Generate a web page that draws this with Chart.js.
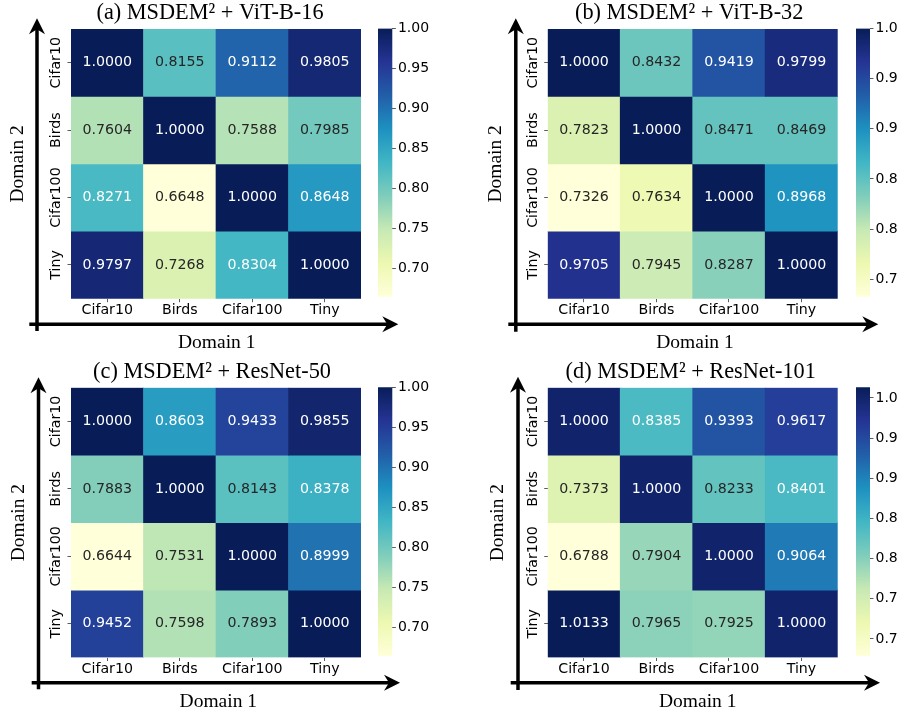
<!DOCTYPE html>
<html>
<head>
<meta charset="utf-8">
<script src="https://cdn.jsdelivr.net/npm/chart.js@4/dist/chart.umd.min.js"></script>
<style>
  html, body { margin: 0; padding: 0; background: #fff; overflow: hidden; }
  #wrap { position: relative; width: 901px; height: 711px; overflow: hidden; background: #fff; }
  canvas { position: absolute; }
</style>
</head>
<body>
<div id="wrap"></div>
<script>
// domains on both axes
const colLabels = ["Cifar10", "Birds", "Cifar100", "Tiny"];
const rowLabels = ["Cifar10", "Birds", "Cifar100", "Tiny"];

// rows = Domain 2 (top to bottom), cols = Domain 1
const vitB16 = [
  [1.0000, 0.8155, 0.9112, 0.9805],
  [0.7604, 1.0000, 0.7588, 0.7985],
  [0.8271, 0.6648, 1.0000, 0.8648],
  [0.9797, 0.7268, 0.8304, 1.0000],
];
const vitB32 = [
  [1.0000, 0.8432, 0.9419, 0.9799],
  [0.7823, 1.0000, 0.8471, 0.8469],
  [0.7326, 0.7634, 1.0000, 0.8968],
  [0.9705, 0.7945, 0.8287, 1.0000],
];
const resnet50 = [
  [1.0000, 0.8603, 0.9433, 0.9855],
  [0.7883, 1.0000, 0.8143, 0.8378],
  [0.6644, 0.7531, 1.0000, 0.8999],
  [0.9452, 0.7598, 0.7893, 1.0000],
];
const resnet101 = [
  [1.0000, 0.8385, 0.9393, 0.9617],
  [0.7373, 1.0000, 0.8233, 0.8401],
  [0.6788, 0.7904, 1.0000, 0.9064],
  [1.0133, 0.7965, 0.7925, 1.0000],
];

const titles = [
  "(a) MSDEM² + ViT-B-16",
  "(b) MSDEM² + ViT-B-32",
  "(c) MSDEM² + ResNet-50",
  "(d) MSDEM² + ResNet-101",
];

// colorbar tick values
const cbTicksA = [0.70, 0.75, 0.80, 0.85, 0.90, 0.95, 1.00];
const cbTicksB = [0.75, 0.80, 0.85, 0.90, 0.95, 1.00];
const cbTicksC = [0.70, 0.75, 0.80, 0.85, 0.90, 0.95, 1.00];
const cbTicksD = [0.70, 0.75, 0.80, 0.85, 0.90, 0.95, 1.00];

const xAxisName = "Domain 1";
const yAxisName = "Domain 2";

// YlGnBu stops
const ylgnbu = ["#ffffd9", "#edf8b1", "#c7e9b4", "#7fcdbb", "#41b6c4", "#1d91c0", "#225ea8", "#253494", "#081d58"];

// page layout of each panel (pixels)
const panels = [
  { values: vitB16, title: titles[0], cbTicks: cbTicksA, x: 0, y: 0, h: 350,
    L: 71, R: 361, T: 29, B: 298.7, yw: 12, cbL: 378.3, cbR: 392.7, cbT: 28.5, cbB: 296.7,
    vx: -34, tip: -10.7, vb: 32.3, hy: 25.5, hx0: -41.7, hx1: 37.3, d1dx: 0.7, d2dx: -53.5 },
  { values: vitB32, title: titles[1], cbTicks: cbTicksB, x: 450, y: 0, h: 350,
    L: 547.7, R: 837.7, T: 29, B: 298.7, yw: 7, cbL: 856, cbR: 870, cbT: 28.5, cbB: 296.7,
    vx: -31.9, tip: -10.7, vb: 33, hy: 25.5, hx0: -39.4, hx1: 40.6, d1dx: 2.3, d2dx: -51.9 },
  { values: resnet50, title: titles[2], cbTicks: cbTicksC, x: 0, y: 350, h: 361,
    L: 71, R: 361, T: 387.7, B: 657.5, yw: 8, cbL: 378.3, cbR: 392.7, cbT: 387.3, cbB: 656,
    vx: -32.5, tip: -10.4, vb: 31.8, hy: 25.3, hx0: -39.3, hx1: 39, d1dx: 2.3, d2dx: -52 },
  { values: resnet101, title: titles[3], cbTicks: cbTicksD, x: 450, y: 350, h: 361,
    L: 547.7, R: 837.7, T: 387.7, B: 657.5, yw: 4, cbL: 856, cbR: 870, cbT: 387.3, cbB: 656,
    vx: -29.7, tip: -11, vb: 32.5, hy: 25.3, hx0: -37, hx1: 42.3, d1dx: 5, d2dx: -49.7 },
];

const sansFont = "'DejaVu Sans', 'Liberation Sans', sans-serif";
const serifFont = "'Liberation Serif', 'Times New Roman', serif";
const titleSize = 22.3;
const titlePadBottom = 4.6;
const titleBox = titleSize * 1.0 + titlePadBottom;
const xAxisHeight = 25;
const figureRightEdge = 897; // the original figure is cropped here

function hexToRgb(hex) {
  return [1, 3, 5].map((i) => parseInt(hex.substr(i, 2), 16));
}

function colormap(t) {
  t = Math.min(1, Math.max(0, t));
  const pos = t * (ylgnbu.length - 1);
  const i = Math.min(Math.floor(pos), ylgnbu.length - 2);
  const f = pos - i;
  const a = hexToRgb(ylgnbu[i]);
  const b = hexToRgb(ylgnbu[i + 1]);
  return a.map((v, k) => Math.round(v + (b[k] - v) * f));
}

function luminance(rgb) {
  const lin = rgb.map((c) => {
    c = c / 255;
    return c <= 0.03928 ? c / 12.92 : Math.pow((c + 0.055) / 1.055, 2.4);
  });
  return 0.2126 * lin[0] + 0.7152 * lin[1] + 0.0722 * lin[2];
}

function drawArrowHead(ctx, x, y, dir) {
  // dir: "up" or "right"
  const len = 16, half = 8, notch = 11;
  ctx.beginPath();
  if (dir === "up") {
    ctx.moveTo(x, y);
    ctx.lineTo(x - half, y + len);
    ctx.lineTo(x, y + notch);
    ctx.lineTo(x + half, y + len);
  } else {
    ctx.moveTo(x, y);
    ctx.lineTo(x - len, y - half);
    ctx.lineTo(x - notch, y);
    ctx.lineTo(x - len, y + half);
  }
  ctx.closePath();
  ctx.fill();
}

const heatmapDecor = {
  id: "heatmapDecor",
  afterDraw(chart, args, opts) {
    const p = opts.panel;
    const ctx = chart.ctx;
    const area = chart.chartArea;
    const vmin = Math.min(...p.values.flat());
    const vmax = Math.max(...p.values.flat());

    ctx.save();
    // cell annotations
    ctx.font = "14.2px " + sansFont;
    ctx.textAlign = "center";
    ctx.textBaseline = "middle";
    chart.data.datasets.forEach((ds, r) => {
      chart.getDatasetMeta(r).data.forEach((bar, c) => {
        const v = p.values[r][c];
        const rgb = colormap((v - vmin) / (vmax - vmin));
        ctx.fillStyle = luminance(rgb) > 0.408 ? "#262626" : "#ffffff";
        const pt = bar.getCenterPoint();
        ctx.fillText(v.toFixed(4), pt.x, pt.y);
      });
    });

    // rotated row labels
    const yScale = chart.scales.y;
    ctx.fillStyle = "#000";
    yScale.ticks.forEach((t, i) => {
      ctx.save();
      ctx.translate(area.left - 14.5, yScale.getPixelForValue(t.value));
      ctx.rotate(-Math.PI / 2);
      ctx.fillText(rowLabels[i], 0, 0);
      ctx.restore();
    });

    // axis arrows
    ctx.strokeStyle = "#000";
    ctx.fillStyle = "#000";
    ctx.lineWidth = 3.5;
    const vx = area.left + p.vx;
    const hy = area.bottom + p.hy;
    const tipY = area.top + p.tip;
    const tipX = area.right + p.hx1;
    ctx.beginPath();
    ctx.moveTo(vx, area.bottom + p.vb);
    ctx.lineTo(vx, tipY + 10);
    ctx.moveTo(area.left + p.hx0, hy);
    ctx.lineTo(tipX - 10, hy);
    ctx.stroke();
    drawArrowHead(ctx, vx, tipY, "up");
    drawArrowHead(ctx, tipX, hy, "right");

    // axis names
    ctx.font = "19.5px " + serifFont;
    ctx.textBaseline = "alphabetic";
    ctx.fillText(xAxisName, (area.left + area.right) / 2 + p.d1dx, area.bottom + 49);
    ctx.save();
    ctx.translate(area.left + p.d2dx, (area.top + area.bottom) / 2);
    ctx.rotate(-Math.PI / 2);
    ctx.textBaseline = "middle";
    ctx.fillText(yAxisName, 0, 0);
    ctx.restore();
    ctx.restore();
  },
};

function addCanvas(left, top, w, h) {
  const c = document.createElement("canvas");
  c.width = w;
  c.height = h;
  c.style.left = left + "px";
  c.style.top = top + "px";
  document.getElementById("wrap").appendChild(c);
  return c.getContext("2d");
}

function makeHeatmap(p) {
  const W = 450;
  const vmin = Math.min(...p.values.flat());
  const vmax = Math.max(...p.values.flat());
  const datasets = p.values.map((row, r) => ({
    label: rowLabels[r],
    data: row.map(() => 1),
    backgroundColor: row.map((v) => {
      const rgb = colormap((v - vmin) / (vmax - vmin));
      return `rgb(${rgb[0]},${rgb[1]},${rgb[2]})`;
    }),
    borderWidth: 0,
    barPercentage: 1,
    categoryPercentage: 1,
  }));

  const ctx = addCanvas(p.x, p.y, W, p.h);
  new Chart(ctx, {
    type: "bar",
    data: { labels: colLabels, datasets: datasets },
    options: {
      responsive: false,
      animation: false,
      devicePixelRatio: 1,
      layout: {
        padding: {
          left: p.L - p.x - p.yw,
          right: W - (p.R - p.x),
          top: p.T - p.y - titleBox,
          bottom: p.h - (p.B - p.y) - xAxisHeight,
        },
      },
      scales: {
        x: {
          stacked: true,
          grid: { offset: false, drawOnChartArea: false, drawTicks: true, tickLength: 3.5, color: "#333", lineWidth: 0.8 },
          border: { display: false },
          ticks: { font: { family: sansFont, size: 14.2 }, color: "#000", padding: 0, maxRotation: 0 },
          afterFit: (scale) => { scale.height = xAxisHeight; },
        },
        y: {
          stacked: true,
          reverse: true,
          min: 0,
          max: rowLabels.length,
          grid: { drawOnChartArea: false, drawTicks: true, tickLength: 3.5, color: "#333", lineWidth: 0.8 },
          border: { display: false },
          ticks: { display: false },
          afterBuildTicks: (scale) => {
            scale.ticks = rowLabels.map((_, i) => ({ value: i + 0.5 }));
          },
          afterFit: (scale) => { scale.width = p.yw; },
        },
      },
      plugins: {
        legend: { display: false },
        tooltip: { enabled: false },
        title: {
          display: true,
          text: p.title,
          color: "#000",
          font: { family: serifFont, size: titleSize, weight: "normal", lineHeight: 1.0 },
          padding: { top: 0, bottom: titlePadBottom },
        },
        heatmapDecor: { panel: p },
      },
    },
    plugins: [heatmapDecor],
  });
}

function makeColorbar(p) {
  const left = p.cbL - 8;
  const W = Math.min(80, figureRightEdge - left);
  const vmin = Math.min(...p.values.flat());
  const vmax = Math.max(...p.values.flat());
  const ctx = addCanvas(left, p.y, W, p.h);
  new Chart(ctx, {
    type: "bar",
    data: {
      labels: ["cb"],
      datasets: [{
        data: [[vmin, vmax]],
        borderWidth: 0,
        barPercentage: 1,
        categoryPercentage: 1,
        backgroundColor: (c) => {
          const area = c.chart.chartArea;
          if (!area) return "#ccc";
          const g = c.chart.ctx.createLinearGradient(0, area.bottom, 0, area.top);
          ylgnbu.forEach((col, i) => g.addColorStop(i / (ylgnbu.length - 1), col));
          return g;
        },
      }],
    },
    options: {
      responsive: false,
      animation: false,
      devicePixelRatio: 1,
      layout: {
        padding: { left: 8, right: 0, top: p.cbT - p.y, bottom: p.h - (p.cbB - p.y) },
      },
      scales: {
        x: { display: false },
        y: {
          position: "right",
          min: vmin,
          max: vmax,
          grid: { drawOnChartArea: false, drawTicks: true, tickLength: 3.5, color: "#333", lineWidth: 0.8 },
          border: { display: false },
          ticks: {
            font: { family: sansFont, size: 14 },
            color: "#000",
            padding: 2,
            callback: (v) => Number(v).toFixed(2),
          },
          afterBuildTicks: (scale) => {
            scale.ticks = p.cbTicks.map((v) => ({ value: v }));
          },
          afterFit: (scale) => { scale.width = W - 8 - (p.cbR - p.cbL); },
        },
      },
      plugins: { legend: { display: false }, tooltip: { enabled: false } },
    },
  });
}

panels.forEach((p) => {
  makeHeatmap(p);
  makeColorbar(p);
});
</script>
</body>
</html>
